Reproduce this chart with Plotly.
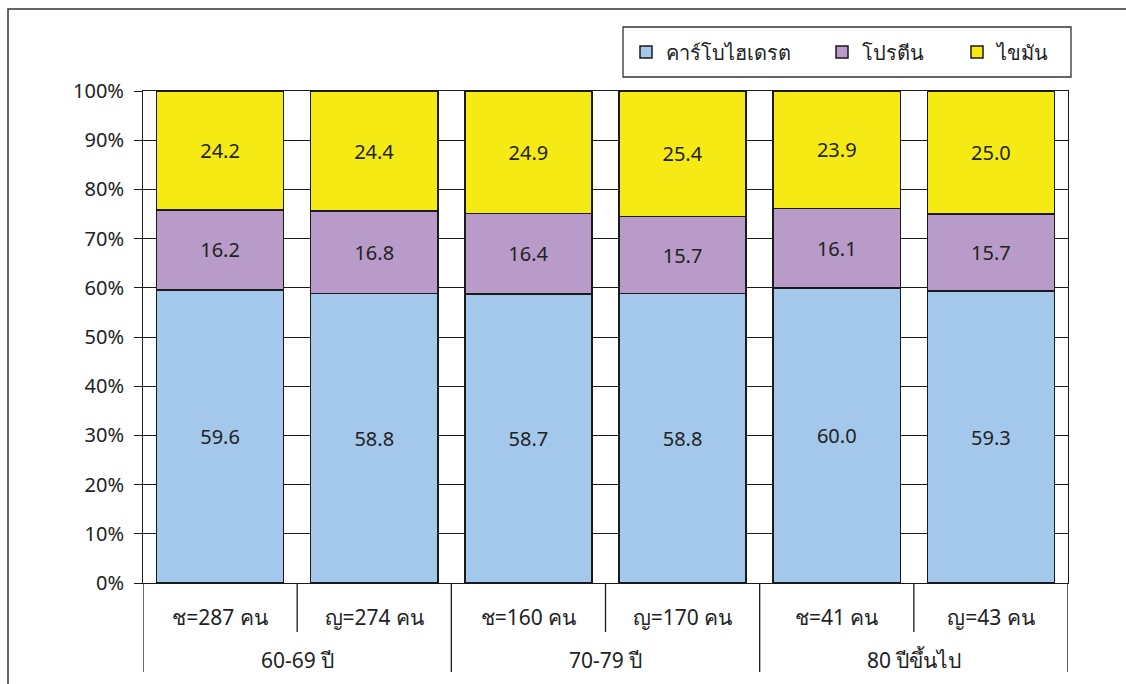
import plotly.graph_objects as go

# ---- data ----
sub_labels = ["ช=287 คน", "ญ=274 คน", "ช=160 คน", "ญ=170 คน", "ช=41 คน", "ญ=43 คน"]
group_labels = ["60-69 ปี", "70-79 ปี", "80 ปีขึ้นไป"]
series_names = ["คาร์โบไฮเดรต", "โปรตีน", "ไขมัน"]
carb = [59.6, 58.8, 58.7, 58.8, 60.0, 59.3]
protein = [16.2, 16.8, 16.4, 15.7, 16.1, 15.7]
fat = [24.2, 24.4, 24.9, 25.4, 23.9, 25.0]
y_ticks = [0, 10, 20, 30, 40, 50, 60, 70, 80, 90, 100]

# ---- styles ----
colors = ["#A3C8EB", "#B89BC9", "#F5EA14"]
FONT = "Noto Sans, DejaVu Sans, sans-serif"
TXT = "#222222"
FS = 20
legend_symbol_px = [646, 842, 977]   # legend entry positions (pixels)

plot_w = 1126 - 143 - 58
plot_h = 684 - 91 - 101

x_pos = list(range(len(sub_labels)))
fig = go.Figure()
legend_ids = ["legend", "legend2", "legend3"]
for name, vals, col, lid in zip(series_names, [carb, protein, fat], colors, legend_ids):
    fig.add_trace(go.Bar(
        x=x_pos, y=vals, name=name, legend=lid,
        marker=dict(color=col, line=dict(color="#1a1a1a", width=1.5)),
        text=[f"{v:.1f}" for v in vals],
        textposition="inside", insidetextanchor="middle",
        textfont=dict(size=FS, color=TXT, family=FONT),
        constraintext="none", textangle=0,
    ))

leg_common = dict(
    orientation="h", xanchor="left",
    y=1 + (91 - 52) / plot_h, yanchor="middle",
    borderwidth=0, bgcolor="rgba(0,0,0,0)",
    font=dict(size=FS, color=TXT), itemwidth=30,
)
legend_layout = {}
for lid, px in zip(legend_ids, legend_symbol_px):
    legend_layout[lid] = dict(leg_common, x=(px - 20 - 143) / plot_w)

fig.update_layout(
    barmode="stack", bargap=0.175,
    width=1126, height=684,
    margin=dict(l=143, r=58, t=91, b=101),
    paper_bgcolor="white", plot_bgcolor="white",
    font=dict(family=FONT, size=FS, color=TXT),
    showlegend=True,
    **legend_layout,
)

fig.update_yaxes(
    range=[0, 100], tickvals=y_ticks, ticktext=[f"{v}%" for v in y_ticks],
    showgrid=True, gridcolor="#1a1a1a", gridwidth=1,
    showline=True, linecolor="#1a1a1a", linewidth=1, mirror=True,
    ticks="outside", ticklen=8, tickcolor="#1a1a1a",
    ticklabelstandoff=6,
    tickfont=dict(size=FS, color=TXT), zeroline=False,
)
fig.update_xaxes(
    range=[-0.5, len(sub_labels) - 0.5],
    tickvals=x_pos, ticktext=sub_labels,
    showgrid=False, zeroline=False,
    showline=True, linecolor="#1a1a1a", linewidth=1, mirror=True,
    ticks="", ticklabelstandoff=16,
    tickfont=dict(size=21, color=TXT),
)

# axis dividers (category boundaries)
short = -49 / plot_h
long_ = -89 / plot_h
n = len(sub_labels)
for i in range(n + 1):
    b = i - 0.5
    is_group = (i % 2 == 0)
    fig.add_shape(type="line", xref="x", yref="paper", x0=b, x1=b,
                  y0=0, y1=long_ if is_group else short,
                  line=dict(color="#1a1a1a", width=1.3))

for gi, g in enumerate(group_labels):
    fig.add_annotation(x=gi * 2 + 0.5, xref="x", y=-77 / plot_h, yref="paper",
                       text=g, showarrow=False, yanchor="middle",
                       font=dict(size=21, color=TXT, family=FONT))

# legend box
fig.add_shape(type="rect", xref="paper", yref="paper",
              x0=(623 - 143) / plot_w, x1=(1071 - 143) / plot_w,
              y0=1 + (91 - 77) / plot_h, y1=1 + (91 - 27) / plot_h,
              line=dict(color="#333333", width=1.3), fillcolor="white", layer="below")

# outer frame
fig.add_shape(type="rect", xref="paper", yref="paper",
              x0=(8 - 143) / plot_w, x1=(1160 - 143) / plot_w,
              y0=-130 / plot_h, y1=1 + 82 / plot_h,
              line=dict(color="#333333", width=1.5), layer="below")

fig.write_html("out.html")
